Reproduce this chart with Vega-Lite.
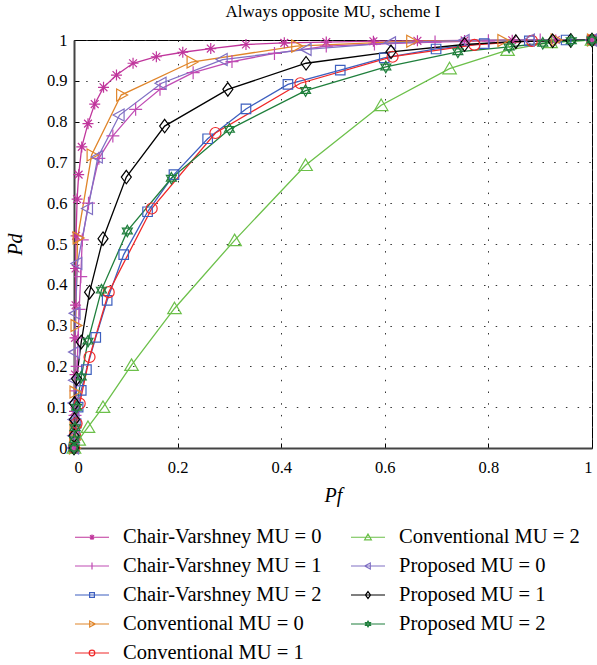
{
  "$schema": "https://vega.github.io/schema/vega-lite/v6.json",
  "width": 518,
  "height": 408,
  "autosize": "none",
  "padding": {"left": 74, "top": 40, "right": 5, "bottom": 217},
  "background": "white",
  "title": {"text": "Always opposite MU, scheme I", "font": "Liberation Serif", "fontSize": 17, "fontWeight": "normal", "color": "#000", "offset": 10, "anchor": "middle"},
  "config": {
    "view": {"stroke": "#000", "strokeWidth": 1},
    "axis": {
      "labelFont": "Liberation Serif", "labelFontSize": 16.5, "labelColor": "#000",
      "titleFont": "Liberation Serif", "titleFontSize": 20, "titleFontStyle": "italic", "titleFontWeight": "normal", "titleColor": "#000",
      "grid": true, "gridColor": "#333", "gridDash": [1.5, 10.2], "gridWidth": 1, "gridOpacity": 1,
      "domainColor": "#444", "domainWidth": 2,
      "tickColor": "#000", "tickSize": -5, "tickWidth": 1
    }
  },
  "data": {"values": [
    {"s":"Chair-Varshney MU = 0","i":0,"x":0,"y":0},
    {"s":"Chair-Varshney MU = 0","i":1,"x":0.001,"y":0.04},
    {"s":"Chair-Varshney MU = 0","i":2,"x":0.001,"y":0.09},
    {"s":"Chair-Varshney MU = 0","i":3,"x":0.002,"y":0.18},
    {"s":"Chair-Varshney MU = 0","i":4,"x":0.002,"y":0.27},
    {"s":"Chair-Varshney MU = 0","i":5,"x":0.003,"y":0.35},
    {"s":"Chair-Varshney MU = 0","i":6,"x":0.003,"y":0.44},
    {"s":"Chair-Varshney MU = 0","i":7,"x":0.004,"y":0.52},
    {"s":"Chair-Varshney MU = 0","i":8,"x":0.006,"y":0.61},
    {"s":"Chair-Varshney MU = 0","i":9,"x":0.009,"y":0.67},
    {"s":"Chair-Varshney MU = 0","i":10,"x":0.015,"y":0.738},
    {"s":"Chair-Varshney MU = 0","i":11,"x":0.027,"y":0.795},
    {"s":"Chair-Varshney MU = 0","i":12,"x":0.04,"y":0.843},
    {"s":"Chair-Varshney MU = 0","i":13,"x":0.057,"y":0.884},
    {"s":"Chair-Varshney MU = 0","i":14,"x":0.082,"y":0.914},
    {"s":"Chair-Varshney MU = 0","i":15,"x":0.114,"y":0.943},
    {"s":"Chair-Varshney MU = 0","i":16,"x":0.159,"y":0.959},
    {"s":"Chair-Varshney MU = 0","i":17,"x":0.21,"y":0.97},
    {"s":"Chair-Varshney MU = 0","i":18,"x":0.264,"y":0.979},
    {"s":"Chair-Varshney MU = 0","i":19,"x":0.332,"y":0.989},
    {"s":"Chair-Varshney MU = 0","i":20,"x":0.406,"y":0.993},
    {"s":"Chair-Varshney MU = 0","i":21,"x":0.487,"y":0.995},
    {"s":"Chair-Varshney MU = 0","i":22,"x":0.578,"y":0.997},
    {"s":"Chair-Varshney MU = 0","i":23,"x":0.663,"y":0.998},
    {"s":"Chair-Varshney MU = 0","i":24,"x":0.754,"y":0.999},
    {"s":"Chair-Varshney MU = 0","i":25,"x":0.846,"y":0.9995},
    {"s":"Chair-Varshney MU = 0","i":26,"x":0.93,"y":1},
    {"s":"Chair-Varshney MU = 0","i":27,"x":1,"y":1},

    {"s":"Chair-Varshney MU = 1","i":0,"x":0,"y":0},
    {"s":"Chair-Varshney MU = 1","i":1,"x":0.001,"y":0.03},
    {"s":"Chair-Varshney MU = 1","i":2,"x":0.002,"y":0.08},
    {"s":"Chair-Varshney MU = 1","i":3,"x":0.004,"y":0.14},
    {"s":"Chair-Varshney MU = 1","i":4,"x":0.006,"y":0.2},
    {"s":"Chair-Varshney MU = 1","i":5,"x":0.008,"y":0.27},
    {"s":"Chair-Varshney MU = 1","i":6,"x":0.01,"y":0.34},
    {"s":"Chair-Varshney MU = 1","i":7,"x":0.013,"y":0.42},
    {"s":"Chair-Varshney MU = 1","i":8,"x":0.016,"y":0.51},
    {"s":"Chair-Varshney MU = 1","i":9,"x":0.028,"y":0.6},
    {"s":"Chair-Varshney MU = 1","i":10,"x":0.048,"y":0.71},
    {"s":"Chair-Varshney MU = 1","i":11,"x":0.075,"y":0.765},
    {"s":"Chair-Varshney MU = 1","i":12,"x":0.119,"y":0.83},
    {"s":"Chair-Varshney MU = 1","i":13,"x":0.166,"y":0.879},
    {"s":"Chair-Varshney MU = 1","i":14,"x":0.23,"y":0.92},
    {"s":"Chair-Varshney MU = 1","i":15,"x":0.305,"y":0.947},
    {"s":"Chair-Varshney MU = 1","i":16,"x":0.387,"y":0.967},
    {"s":"Chair-Varshney MU = 1","i":17,"x":0.487,"y":0.985},
    {"s":"Chair-Varshney MU = 1","i":18,"x":0.58,"y":0.99},
    {"s":"Chair-Varshney MU = 1","i":19,"x":0.697,"y":0.995},
    {"s":"Chair-Varshney MU = 1","i":20,"x":0.8,"y":0.998},
    {"s":"Chair-Varshney MU = 1","i":21,"x":0.9,"y":1},
    {"s":"Chair-Varshney MU = 1","i":22,"x":1,"y":1},

    {"s":"Chair-Varshney MU = 2","i":0,"x":0,"y":0},
    {"s":"Chair-Varshney MU = 2","i":1,"x":0.002,"y":0.03},
    {"s":"Chair-Varshney MU = 2","i":2,"x":0.004,"y":0.06},
    {"s":"Chair-Varshney MU = 2","i":3,"x":0.008,"y":0.1},
    {"s":"Chair-Varshney MU = 2","i":4,"x":0.014,"y":0.141},
    {"s":"Chair-Varshney MU = 2","i":5,"x":0.024,"y":0.192},
    {"s":"Chair-Varshney MU = 2","i":6,"x":0.042,"y":0.271},
    {"s":"Chair-Varshney MU = 2","i":7,"x":0.064,"y":0.362},
    {"s":"Chair-Varshney MU = 2","i":8,"x":0.096,"y":0.474},
    {"s":"Chair-Varshney MU = 2","i":9,"x":0.142,"y":0.579},
    {"s":"Chair-Varshney MU = 2","i":10,"x":0.193,"y":0.67},
    {"s":"Chair-Varshney MU = 2","i":11,"x":0.258,"y":0.758},
    {"s":"Chair-Varshney MU = 2","i":12,"x":0.332,"y":0.831},
    {"s":"Chair-Varshney MU = 2","i":13,"x":0.413,"y":0.891},
    {"s":"Chair-Varshney MU = 2","i":14,"x":0.514,"y":0.926},
    {"s":"Chair-Varshney MU = 2","i":15,"x":0.599,"y":0.956},
    {"s":"Chair-Varshney MU = 2","i":16,"x":0.699,"y":0.978},
    {"s":"Chair-Varshney MU = 2","i":17,"x":0.792,"y":0.991},
    {"s":"Chair-Varshney MU = 2","i":18,"x":0.879,"y":0.998},
    {"s":"Chair-Varshney MU = 2","i":19,"x":0.95,"y":1},
    {"s":"Chair-Varshney MU = 2","i":20,"x":1,"y":1},

    {"s":"Conventional MU = 0","i":0,"x":0,"y":0},
    {"s":"Conventional MU = 0","i":1,"x":0.0005,"y":0.02},
    {"s":"Conventional MU = 0","i":2,"x":0.001,"y":0.05},
    {"s":"Conventional MU = 0","i":3,"x":0.001,"y":0.137},
    {"s":"Conventional MU = 0","i":4,"x":0.003,"y":0.3},
    {"s":"Conventional MU = 0","i":5,"x":0.007,"y":0.515},
    {"s":"Conventional MU = 0","i":6,"x":0.034,"y":0.718},
    {"s":"Conventional MU = 0","i":7,"x":0.091,"y":0.865},
    {"s":"Conventional MU = 0","i":8,"x":0.227,"y":0.946},
    {"s":"Conventional MU = 0","i":9,"x":0.429,"y":0.985},
    {"s":"Conventional MU = 0","i":10,"x":0.651,"y":0.997},
    {"s":"Conventional MU = 0","i":11,"x":0.827,"y":0.999},
    {"s":"Conventional MU = 0","i":12,"x":0.93,"y":1},
    {"s":"Conventional MU = 0","i":13,"x":1,"y":1},

    {"s":"Conventional MU = 1","i":0,"x":0,"y":0},
    {"s":"Conventional MU = 1","i":1,"x":0.002,"y":0.03},
    {"s":"Conventional MU = 1","i":2,"x":0.005,"y":0.06},
    {"s":"Conventional MU = 1","i":3,"x":0.011,"y":0.109},
    {"s":"Conventional MU = 1","i":4,"x":0.03,"y":0.223},
    {"s":"Conventional MU = 1","i":5,"x":0.067,"y":0.382},
    {"s":"Conventional MU = 1","i":6,"x":0.15,"y":0.587},
    {"s":"Conventional MU = 1","i":7,"x":0.273,"y":0.772},
    {"s":"Conventional MU = 1","i":8,"x":0.437,"y":0.894},
    {"s":"Conventional MU = 1","i":9,"x":0.615,"y":0.959},
    {"s":"Conventional MU = 1","i":10,"x":0.773,"y":0.988},
    {"s":"Conventional MU = 1","i":11,"x":0.884,"y":0.998},
    {"s":"Conventional MU = 1","i":12,"x":1,"y":1},

    {"s":"Conventional MU = 2","i":0,"x":0,"y":0},
    {"s":"Conventional MU = 2","i":1,"x":0.009,"y":0.02},
    {"s":"Conventional MU = 2","i":2,"x":0.027,"y":0.051},
    {"s":"Conventional MU = 2","i":3,"x":0.056,"y":0.1},
    {"s":"Conventional MU = 2","i":4,"x":0.111,"y":0.203},
    {"s":"Conventional MU = 2","i":5,"x":0.194,"y":0.342},
    {"s":"Conventional MU = 2","i":6,"x":0.31,"y":0.509},
    {"s":"Conventional MU = 2","i":7,"x":0.447,"y":0.693},
    {"s":"Conventional MU = 2","i":8,"x":0.593,"y":0.84},
    {"s":"Conventional MU = 2","i":9,"x":0.725,"y":0.93},
    {"s":"Conventional MU = 2","i":10,"x":0.837,"y":0.975},
    {"s":"Conventional MU = 2","i":11,"x":0.92,"y":0.994},
    {"s":"Conventional MU = 2","i":12,"x":1,"y":1},

    {"s":"Proposed MU = 0","i":0,"x":0,"y":0},
    {"s":"Proposed MU = 0","i":1,"x":0.0005,"y":0.03},
    {"s":"Proposed MU = 0","i":2,"x":0.001,"y":0.07},
    {"s":"Proposed MU = 0","i":3,"x":0.001,"y":0.11},
    {"s":"Proposed MU = 0","i":4,"x":0.002,"y":0.166},
    {"s":"Proposed MU = 0","i":5,"x":0.002,"y":0.235},
    {"s":"Proposed MU = 0","i":6,"x":0.003,"y":0.33},
    {"s":"Proposed MU = 0","i":7,"x":0.0065,"y":0.452},
    {"s":"Proposed MU = 0","i":8,"x":0.027,"y":0.587},
    {"s":"Proposed MU = 0","i":9,"x":0.046,"y":0.713},
    {"s":"Proposed MU = 0","i":10,"x":0.088,"y":0.816},
    {"s":"Proposed MU = 0","i":11,"x":0.169,"y":0.894},
    {"s":"Proposed MU = 0","i":12,"x":0.287,"y":0.952},
    {"s":"Proposed MU = 0","i":13,"x":0.449,"y":0.977},
    {"s":"Proposed MU = 0","i":14,"x":0.612,"y":0.993},
    {"s":"Proposed MU = 0","i":15,"x":0.754,"y":0.999},
    {"s":"Proposed MU = 0","i":16,"x":0.88,"y":1},
    {"s":"Proposed MU = 0","i":17,"x":1,"y":1},

    {"s":"Proposed MU = 1","i":0,"x":0,"y":0},
    {"s":"Proposed MU = 1","i":1,"x":0,"y":0.03},
    {"s":"Proposed MU = 1","i":2,"x":0.001,"y":0.07},
    {"s":"Proposed MU = 1","i":3,"x":0.001,"y":0.109},
    {"s":"Proposed MU = 1","i":4,"x":0.005,"y":0.17},
    {"s":"Proposed MU = 1","i":5,"x":0.014,"y":0.26},
    {"s":"Proposed MU = 1","i":6,"x":0.03,"y":0.382},
    {"s":"Proposed MU = 1","i":7,"x":0.056,"y":0.513},
    {"s":"Proposed MU = 1","i":8,"x":0.101,"y":0.664},
    {"s":"Proposed MU = 1","i":9,"x":0.175,"y":0.789},
    {"s":"Proposed MU = 1","i":10,"x":0.297,"y":0.879},
    {"s":"Proposed MU = 1","i":11,"x":0.448,"y":0.943},
    {"s":"Proposed MU = 1","i":12,"x":0.612,"y":0.971},
    {"s":"Proposed MU = 1","i":13,"x":0.754,"y":0.989},
    {"s":"Proposed MU = 1","i":14,"x":0.853,"y":0.996},
    {"s":"Proposed MU = 1","i":15,"x":0.924,"y":0.998},
    {"s":"Proposed MU = 1","i":16,"x":0.959,"y":0.999},
    {"s":"Proposed MU = 1","i":17,"x":1,"y":1},

    {"s":"Proposed MU = 2","i":0,"x":0,"y":0},
    {"s":"Proposed MU = 2","i":1,"x":0.001,"y":0.02},
    {"s":"Proposed MU = 2","i":2,"x":0.002,"y":0.05},
    {"s":"Proposed MU = 2","i":3,"x":0.005,"y":0.1},
    {"s":"Proposed MU = 2","i":4,"x":0.014,"y":0.174},
    {"s":"Proposed MU = 2","i":5,"x":0.027,"y":0.262},
    {"s":"Proposed MU = 2","i":6,"x":0.053,"y":0.387},
    {"s":"Proposed MU = 2","i":7,"x":0.103,"y":0.532},
    {"s":"Proposed MU = 2","i":8,"x":0.188,"y":0.661},
    {"s":"Proposed MU = 2","i":9,"x":0.3,"y":0.781},
    {"s":"Proposed MU = 2","i":10,"x":0.447,"y":0.876},
    {"s":"Proposed MU = 2","i":11,"x":0.602,"y":0.934},
    {"s":"Proposed MU = 2","i":12,"x":0.741,"y":0.971},
    {"s":"Proposed MU = 2","i":13,"x":0.84,"y":0.983},
    {"s":"Proposed MU = 2","i":14,"x":0.905,"y":0.992},
    {"s":"Proposed MU = 2","i":15,"x":0.96,"y":0.998},
    {"s":"Proposed MU = 2","i":16,"x":1,"y":1}
  ]},
  "encoding": {
    "x": {"field": "x", "type": "quantitative", "scale": {"domain": [0, 1], "nice": false, "zero": false},
      "axis": {"title": "Pf", "values": [0, 0.2, 0.4, 0.6, 0.8, 1], "format": "~g", "labelPadding": 16, "titlePadding": 10}},
    "y": {"field": "y", "type": "quantitative", "scale": {"domain": [0, 1], "nice": false, "zero": false},
      "axis": {"title": "Pd", "values": [0, 0.1, 0.2, 0.3, 0.4, 0.5, 0.6, 0.7, 0.8, 0.9, 1], "format": "~g", "labelPadding": 12, "titlePadding": 21}}
  },
  "layer": [
    {
      "mark": {"type": "line", "strokeWidth": 1.3, "clip": false},
      "encoding": {
        "order": {"field": "i", "type": "quantitative"},
        "color": {"field": "s", "type": "nominal",
          "scale": {
            "range": ["#c0369c","#c04cb4","#3d5fbf","#e0852a","#f02828","#6cc04a","#8070c4","#000000","#1f7f3c"]
          },
          "legend": {
            "title": null, "orient": "none", "legendX": 0, "legendY": 479, "columns": 2, "padding": 0,
            "symbolSize": 1156, "symbolOffset": 0, "symbolStrokeWidth": 1.2,
            "labelFont": "Liberation Serif", "labelFontSize": 20.5, "labelColor": "#000", "labelOffset": 13, "labelLimit": 0,
            "columnPadding": 26, "rowPadding": 0,
            "encode": {"symbols": {"update": {
              "fill": {"value": "transparent"},
              "strokeWidth": {"value": 1.2},
              "shape": {"signal": "['M-1,0L1,0M-0.165,0L0.165,0M0,-0.165L0,0.165M-0.117,-0.117L0.117,0.117M-0.117,0.117L0.117,-0.117','M-1,0L1,0M0,-0.2L0,0.2','M-1,0L1,0M-0.14,-0.14L0.14,-0.14L0.14,0.14L-0.14,0.14Z','M-1,0L1,0M-0.135,-0.18L0.195,0L-0.135,0.18Z','M-1,0L1,0M-0.165,0A0.165,0.165 0 1,0 0.165,0A0.165,0.165 0 1,0 -0.165,0Z','M-1,0L1,0M0,-0.19L0.2,0.16L-0.2,0.16Z','M-1,0L1,0M0.135,-0.18L-0.195,0L0.135,0.18Z','M-1,0L1,0M0,-0.2L0.15,0L0,0.2L-0.15,0Z','M-1,0L1,0M0,-0.17L0.147,0.085L-0.147,0.085ZM0,0.17L0.147,-0.085L-0.147,-0.085Z'][indexof(['Chair-Varshney MU = 0','Chair-Varshney MU = 1','Chair-Varshney MU = 2','Conventional MU = 0','Conventional MU = 1','Conventional MU = 2','Proposed MU = 0','Proposed MU = 1','Proposed MU = 2'], datum.value)]"}
            }}}
          }
        }
      }
    },
    {
      "mark": {"type": "point", "filled": false, "strokeWidth": 1.2, "size": 100, "opacity": 1, "clip": false},
      "encoding": {
        "color": {"field": "s", "type": "nominal", "legend": null},
        "shape": {"field": "s", "type": "nominal", "legend": null,
          "scale": {
            "domain": ["Chair-Varshney MU = 0","Chair-Varshney MU = 1","Chair-Varshney MU = 2","Conventional MU = 0","Conventional MU = 1","Conventional MU = 2","Proposed MU = 0","Proposed MU = 1","Proposed MU = 2"],
            "range": [
              "M-1.1,0L1.1,0M0,-1.1L0,1.1M-0.78,-0.78L0.78,0.78M-0.78,0.78L0.78,-0.78",
              "M-1.3,0L1.3,0M0,-1.3L0,1.3",
              "M-0.95,-0.95L0.95,-0.95L0.95,0.95L-0.95,0.95Z",
              "M-0.9,-1.2L1.3,0L-0.9,1.2Z",
              "M-1.1,0A1.1,1.1 0 1,0 1.1,0A1.1,1.1 0 1,0 -1.1,0Z",
              "M0,-1.25L1.35,1.05L-1.35,1.05Z",
              "M0.9,-1.2L-1.3,0L0.9,1.2Z",
              "M0,-1.35L1,0L0,1.35L-1,0Z",
              "M0,-1.15L0.996,0.575L-0.996,0.575ZM0,1.15L0.996,-0.575L-0.996,-0.575Z"
            ]
          }
        }
      }
    }
  ]
}
